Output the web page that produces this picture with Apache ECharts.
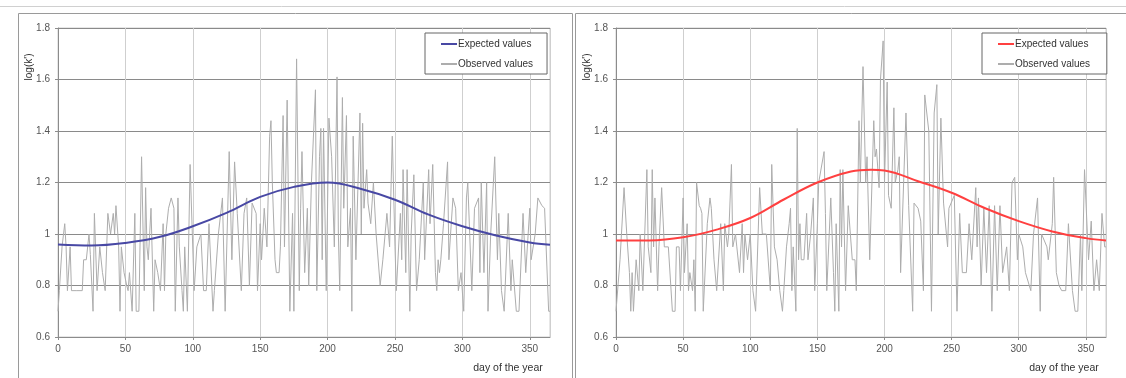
<!DOCTYPE html>
<html>
<head>
<meta charset="utf-8">
<script src="https://cdn.jsdelivr.net/npm/echarts@6/dist/echarts.min.js"></script>
<style>
html,body{margin:0;padding:0;background:#fff;}
#chart{width:1126px;height:378px;}
</style>
</head>
<body>
<div id="chart"></div>
<script>
// ---- data ----
var xTicks = [0, 50, 100, 150, 200, 250, 300, 350];
var yTicks = [0.6, 0.8, 1.0, 1.2, 1.4, 1.6, 1.8];
var legendNames = ['Expected values', 'Observed values'];
var xAxisTitle = 'day of the year';
var yAxisTitle = "log(k')";

var leftExpDays = [0, 25, 50, 75, 100, 125, 150, 175, 200, 225, 250, 275, 300, 325, 350, 365];
var leftExpVals = [0.959, 0.955, 0.965, 0.988, 1.03, 1.082, 1.144, 1.183, 1.20, 1.175, 1.133, 1.075, 1.03, 0.994, 0.967, 0.958];

var rightExpDays = [0, 25, 50, 75, 100, 125, 150, 175, 190, 200, 225, 250, 275, 300, 325, 350, 365];
var rightExpVals = [0.975, 0.975, 0.987, 1.017, 1.062, 1.134, 1.2, 1.243, 1.25, 1.247, 1.205, 1.16, 1.10, 1.05, 1.01, 0.984, 0.975];

var leftObs = [[0,0.7],[1,0.78],[3,0.95],[5,1.04],[6,0.95],[7,0.78],[9,0.95],[10,0.78],[14,0.78],[18,0.78],[19,0.9],[21,0.9],[23,1.0],[24,0.92],[26,0.7],[27,1.08],[29,0.78],[31,0.95],[33,0.85],[35,0.78],[37,1.08],[39,1.0],[41,1.08],[42,1.0],[43,1.11],[45,0.95],[46,0.7],[47,0.95],[49,0.85],[51,0.8],[52,0.78],[53,0.85],[55,0.7],[57,1.08],[58,0.7],[60,0.7],[62,1.3],[64,0.78],[65,1.18],[66,0.95],[67,0.9],[69,1.1],[71,0.7],[72,0.9],[74,0.85],[76,0.78],[78,1.04],[79,0.78],[80,1.0],[82,1.1],[84,1.14],[86,1.1],[87,0.7],[89,1.14],[90,0.95],[92,0.78],[93,0.7],[94,0.95],[96,0.7],[98,1.27],[101,0.78],[103,0.95],[106,1.0],[108,0.78],[110,0.78],[112,1.04],[115,0.7],[116,0.78],[119,1.0],[122,1.14],[124,0.7],[127,1.32],[129,0.9],[131,1.28],[133,1.08],[136,0.78],[138,1.08],[140,1.14],[142,0.8],[144,1.12],[147,1.08],[148,0.78],[150,1.04],[151,0.9],[153,1.1],[155,0.95],[157,1.38],[158,1.44],[159,1.2],[161,0.9],[162,0.85],[164,0.85],[165,0.95],[167,1.46],[168,0.95],[170,1.52],[172,0.7],[174,1.08],[175,0.7],[177,1.68],[179,0.78],[180,1.1],[181,1.32],[183,0.85],[185,1.1],[186,0.8],[188,1.2],[191,1.56],[192,0.78],[194,1.3],[195,1.41],[196,0.9],[197,1.41],[199,0.78],[201,1.45],[203,1.3],[205,0.95],[207,1.61],[208,1.0],[209,0.78],[211,1.53],[212,1.1],[214,1.46],[215,0.95],[217,1.1],[218,0.7],[219,1.38],[221,0.9],[224,1.47],[225,1.0],[226,1.43],[227,1.1],[229,1.25],[230,1.12],[232,1.04],[234,1.2],[236,1.0],[239,0.8],[241,0.9],[244,1.08],[246,0.95],[248,1.38],[250,0.95],[251,0.78],[254,1.08],[255,0.9],[256,1.25],[258,0.85],[259,1.25],[261,0.7],[262,1.0],[264,1.23],[266,0.78],[268,0.9],[271,1.2],[272,0.9],[275,1.25],[276,1.04],[278,1.27],[280,0.85],[281,0.78],[282,0.9],[283,0.85],[284,0.9],[286,1.04],[289,1.28],[290,0.9],[293,1.14],[295,1.1],[297,0.78],[299,0.85],[301,0.7],[303,1.14],[304,1.2],[307,0.78],[309,1.1],[312,1.14],[313,0.85],[314,1.2],[316,0.85],[318,1.2],[319,0.7],[321,1.0],[324,1.3],[326,0.9],[327,1.08],[329,0.78],[331,0.7],[334,1.08],[336,0.78],[337,0.9],[340,0.7],[342,0.7],[345,1.08],[347,0.85],[350,1.1],[351,0.9],[354,1.0],[356,1.14],[359,1.11],[361,1.1],[364,0.7],[365,0.7]];

var rightObs = [[0,0.7],[1,0.7],[3,0.9],[6,1.18],[8,1.0],[10,0.85],[11,0.7],[12,0.85],[13,0.7],[14,0.7],[15,0.9],[17,0.78],[18,1.0],[20,0.78],[23,1.25],[24,0.95],[26,0.85],[27,1.25],[28,0.95],[29,1.14],[31,0.78],[32,0.95],[34,1.18],[36,0.95],[39,0.95],[42,0.7],[44,0.7],[45,0.95],[47,0.95],[48,0.78],[50,1.14],[51,0.85],[53,1.04],[54,0.78],[55,0.85],[57,0.78],[58,0.9],[59,0.7],[60,1.2],[62,1.11],[63,1.1],[64,1.08],[65,0.7],[68,1.04],[70,1.14],[71,1.1],[73,0.9],[75,0.78],[76,0.78],[78,1.04],[80,0.78],[81,1.04],[83,0.95],[84,1.0],[86,1.27],[87,0.95],[89,1.0],[90,0.95],[92,0.85],[94,1.04],[95,0.85],[96,1.0],[98,0.9],[100,1.0],[102,0.78],[104,0.7],[107,1.18],[109,1.0],[112,1.0],[115,0.78],[116,1.27],[118,0.95],[120,0.9],[122,0.78],[124,0.7],[125,0.78],[127,0.95],[129,1.04],[130,1.1],[131,0.78],[132,0.95],[134,0.7],[135,1.41],[136,0.9],[137,1.04],[138,0.9],[140,0.9],[142,1.08],[143,0.9],[145,1.0],[147,1.14],[148,0.78],[150,1.04],[151,1.2],[155,1.32],[156,1.08],[157,0.78],[160,1.14],[162,0.85],[163,0.7],[164,1.04],[166,0.7],[167,1.25],[168,0.95],[169,1.25],[171,0.78],[173,1.11],[176,0.9],[178,0.9],[179,0.78],[181,1.44],[182,1.2],[184,1.65],[186,1.2],[187,1.3],[189,0.9],[192,1.44],[193,1.3],[194,1.33],[196,1.18],[197,1.6],[199,1.75],[200,1.2],[202,1.59],[203,1.15],[205,1.1],[207,1.49],[208,1.2],[210,1.25],[211,1.3],[212,0.85],[216,1.47],[218,1.11],[221,0.7],[222,1.12],[225,1.1],[227,1.05],[229,0.78],[230,1.54],[233,1.4],[235,0.7],[237,1.47],[239,1.58],[240,1.0],[242,1.45],[244,1.12],[247,0.95],[248,1.1],[252,1.15],[254,0.7],[256,1.08],[258,0.85],[261,0.85],[263,1.04],[265,0.9],[268,1.18],[269,0.95],[270,1.14],[272,0.8],[274,1.1],[276,0.85],[278,1.11],[280,0.7],[282,1.11],[284,0.78],[286,1.11],[288,0.85],[291,0.95],[293,0.78],[295,1.2],[297,1.22],[299,0.9],[300,1.0],[303,0.95],[305,0.85],[309,0.78],[311,1.0],[314,1.14],[316,0.7],[317,1.0],[321,0.95],[322,0.9],[325,1.04],[326,1.22],[328,0.85],[330,0.8],[332,0.78],[335,0.78],[337,1.04],[340,0.78],[342,0.7],[344,0.7],[346,1.0],[347,0.78],[349,1.25],[352,0.9],[354,1.05],[356,0.78],[358,0.9],[360,0.78],[362,1.08],[364,0.95],[365,0.95]];

// ---- chart ----
var FONT = 'Liberation Sans';
function zip(a, b) { return a.map(function (d, i) { return [d, b[i]]; }); }

function xAxisCfg(gi) {
  return {
    type: 'value', gridIndex: gi, min: xTicks[0], max: 365, interval: xTicks[1] - xTicks[0],
    axisLine: { show: true, lineStyle: { color: '#8c8c8c', width: 1 } },
    axisTick: { show: true, length: 3, lineStyle: { color: '#8c8c8c' } },
    axisLabel: { color: '#555', fontSize: 10, fontFamily: FONT, margin: 7, showMaxLabel: false },
    splitLine: { show: true, lineStyle: { color: '#cfcfcf', width: 1 } }
  };
}
function yAxisCfg(gi) {
  return {
    type: 'value', gridIndex: gi, min: yTicks[0], max: yTicks[yTicks.length - 1], interval: 0.2,
    axisLine: { show: true, lineStyle: { color: '#8c8c8c', width: 1 } },
    axisTick: { show: true, length: 3, lineStyle: { color: '#8c8c8c' } },
    axisLabel: { color: '#555', fontSize: 10, fontFamily: FONT, margin: 8,
      formatter: function (v) { return (Math.round(v * 10) / 10).toString(); } },
    splitLine: { show: true, lineStyle: { color: '#8a8a8a', width: 1 } }
  };
}
function legendCfg(left, names) {
  return {
    left: left, top: 33, orient: 'vertical', data: names,
    itemWidth: 16, itemHeight: 10, itemGap: 10,
    padding: [6, 14, 5, 15],
    borderColor: '#666', borderWidth: 1, backgroundColor: '#fff',
    itemStyle: { opacity: 0 },
    textStyle: { color: '#333', fontSize: 10, fontFamily: FONT, padding: [0, 0, 0, -4] }
  };
}

var chart = echarts.init(document.getElementById('chart'), null, { renderer: 'canvas' });
chart.setOption({
  animation: false,
  backgroundColor: '#fff',
  grid: [
    { left: 58, top: 28, width: 492, height: 309, show: true, borderColor: '#cfcfcf', borderWidth: 1 },
    { left: 616, top: 28, width: 490, height: 309, show: true, borderColor: '#cfcfcf', borderWidth: 1 }
  ],
  xAxis: [xAxisCfg(0), xAxisCfg(1)],
  yAxis: [yAxisCfg(0), yAxisCfg(1)],
  legend: [legendCfg(425, [{ name: legendNames[0] }, { name: legendNames[1] }]),
           legendCfg(982, [{ name: legendNames[0] + ' ' }, { name: legendNames[1] + ' ' }])],
  series: [
    { name: legendNames[1], type: 'line', xAxisIndex: 0, yAxisIndex: 0, data: leftObs,
      symbol: 'none', lineStyle: { color: '#adadad', width: 1 }, itemStyle: { color: '#adadad' }, z: 2 },
    { name: legendNames[0], type: 'line', xAxisIndex: 0, yAxisIndex: 0, data: zip(leftExpDays, leftExpVals),
      symbol: 'none', smooth: 0.4, lineStyle: { color: '#4848a4', width: 2 }, itemStyle: { color: '#4848a4' }, z: 3 },
    { name: legendNames[1] + ' ', type: 'line', xAxisIndex: 1, yAxisIndex: 1, data: rightObs,
      symbol: 'none', lineStyle: { color: '#adadad', width: 1 }, itemStyle: { color: '#adadad' }, z: 2 },
    { name: legendNames[0] + ' ', type: 'line', xAxisIndex: 1, yAxisIndex: 1, data: zip(rightExpDays, rightExpVals),
      symbol: 'none', smooth: 0.4, lineStyle: { color: '#ff4040', width: 2 }, itemStyle: { color: '#ff4040' }, z: 3 }
  ],
  graphic: [
    { type: 'line', shape: { x1: 0, y1: 6.5, x2: 1126, y2: 6.5 }, style: { stroke: '#d0d0d0', lineWidth: 1 }, silent: true },
    { type: 'rect', shape: { x: 18.5, y: 13.5, width: 554, height: 370 }, style: { fill: null, stroke: '#9a9a9a', lineWidth: 1 }, silent: true },
    { type: 'rect', shape: { x: 575.5, y: 13.5, width: 560, height: 370 }, style: { fill: null, stroke: '#9a9a9a', lineWidth: 1 }, silent: true },
    { type: 'text', x: 29, y: 67, rotation: Math.PI / 2, style: { text: yAxisTitle, fill: '#333', fontSize: 10, fontFamily: FONT, textAlign: 'center', textVerticalAlign: 'middle' } },
    { type: 'text', x: 587, y: 67, rotation: Math.PI / 2, style: { text: yAxisTitle, fill: '#333', fontSize: 10, fontFamily: FONT, textAlign: 'center', textVerticalAlign: 'middle' } },
    { type: 'text', x: 508, y: 368, style: { text: xAxisTitle, fill: '#333', fontSize: 10.5, fontFamily: FONT, textAlign: 'center', textVerticalAlign: 'middle' } },
    { type: 'text', x: 1064, y: 368, style: { text: xAxisTitle, fill: '#333', fontSize: 10.5, fontFamily: FONT, textAlign: 'center', textVerticalAlign: 'middle' } }
  ]
});
</script>
</body>
</html>
